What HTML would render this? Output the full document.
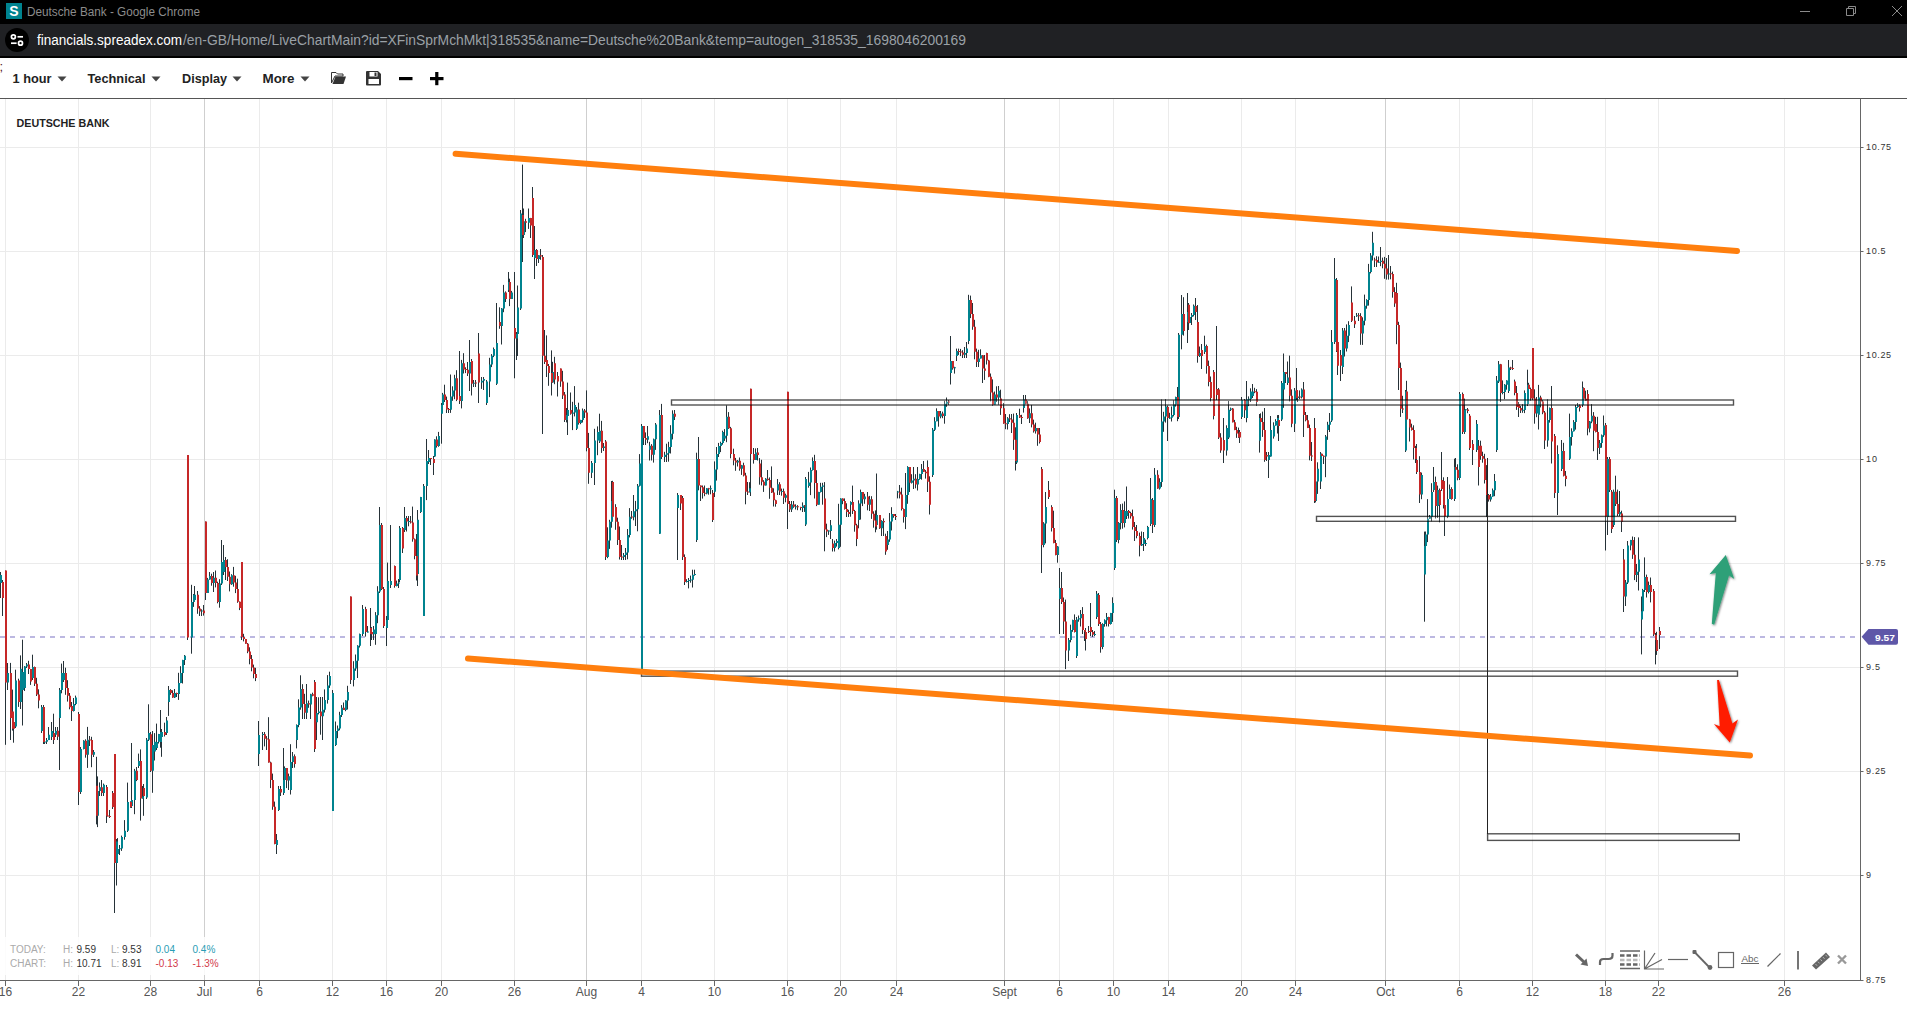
<!DOCTYPE html>
<html><head><meta charset="utf-8"><title>Deutsche Bank</title>
<style>
html,body{margin:0;padding:0;background:#fff;}
body{width:1907px;height:1026px;overflow:hidden;position:relative;font-family:"Liberation Sans",sans-serif;}
#titlebar{position:absolute;left:0;top:0;width:1907px;height:24px;background:#000;}
#urlbar{position:absolute;left:0;top:24px;width:1907px;height:32px;background:#202124;}
#urlline{position:absolute;left:0;top:56px;width:1907px;height:2px;background:#000;}
svg{position:absolute;left:0;top:0;}
text{font-family:"Liberation Sans",sans-serif;}
.tb{font-weight:bold;font-size:13px;fill:#222;}
.xl{font-size:12px;fill:#555;text-anchor:middle;}
.yl{font-size:9px;fill:#333;}
.st{font-size:10px;}
</style></head>
<body>
<div id="titlebar"></div><div id="urlbar"></div><div id="urlline"></div>
<svg width="1907" height="1026" viewBox="0 0 1907 1026">
<!-- title bar -->
<rect x="6" y="3" width="16" height="16" fill="#00838f"/>
<text x="14" y="16" font-size="14" font-weight="bold" fill="#fff" text-anchor="middle">S</text>
<text x="27" y="16" font-size="12" fill="#8c8c8c" textLength="173" lengthAdjust="spacingAndGlyphs">Deutsche Bank - Google Chrome</text>
<g stroke="#8a8a8a" stroke-width="1" fill="none">
<path d="M1800 11.5H1810"/>
<path d="M1846.5 8.5H1853.5V15.5H1846.5Z M1848.5 8.5V6.5H1855.5V13.5H1853.5"/>
<path d="M1892 6L1902 16M1902 6L1892 16"/>
</g>
<!-- url bar -->
<circle cx="17" cy="40" r="12" fill="#000"/>
<g stroke="#fff" stroke-width="1.7" fill="none">
<circle cx="13.4" cy="36.8" r="2"/><path d="M17.5 36.8H23"/>
<circle cx="20.5" cy="43.2" r="2"/><path d="M11 43.2H16.6"/>
</g>
<text x="37" y="45" font-size="14" fill="#fff" textLength="145" lengthAdjust="spacingAndGlyphs">financials.spreadex.com</text>
<text x="183" y="45" font-size="14" fill="#9aa0a6" textLength="783" lengthAdjust="spacingAndGlyphs">/en-GB/Home/LiveChartMain?id=XFinSprMchMkt|318535&amp;name=Deutsche%20Bank&amp;temp=autogen_318535_1698046200169</text>
<!-- toolbar -->
<text x="-0.5" y="70.5" font-size="13" fill="#522">;</text>
<text x="12.5" y="83" class="tb" textLength="39" lengthAdjust="spacingAndGlyphs">1 hour</text>
<path d="M57.5 76.5h9l-4.5 5z" fill="#444"/>
<text x="87.5" y="83" class="tb" textLength="58" lengthAdjust="spacingAndGlyphs">Technical</text>
<path d="M151.5 76.5h9l-4.5 5z" fill="#444"/>
<text x="182" y="83" class="tb" textLength="45" lengthAdjust="spacingAndGlyphs">Display</text>
<path d="M232.5 76.5h9l-4.5 5z" fill="#444"/>
<text x="262.5" y="83" class="tb" textLength="32" lengthAdjust="spacingAndGlyphs">More</text>
<path d="M300.5 76.5h9l-4.5 5z" fill="#444"/>
<!-- folder -->
<path d="M331.5 72.5h4.5l1.5 1.5h5.5v2h-8l-3.5 7z" fill="none" stroke="#333" stroke-width="1"/>
<path d="M335.5 76.5h10.5l-2.5 7.5h-11z" fill="#333"/>
<!-- save -->
<path d="M367 71h11l3 3v10.5a1 1 0 0 1-1 1h-13a1 1 0 0 1-1-1v-12.500a1 1 0 0 1 1-1z" fill="#333"/>
<rect x="369.5" y="72" width="8" height="4.5" fill="#fff"/><rect x="374.5" y="72.5" width="2" height="3.5" fill="#333"/>
<rect x="368.5" y="79" width="10.5" height="5" fill="#fff"/>
<!-- minus plus -->
<rect x="399" y="77" width="13.5" height="3.2" fill="#000"/>
<rect x="430" y="77" width="13.5" height="3.2" fill="#000"/><rect x="435.2" y="72" width="3.2" height="13.2" fill="#000"/>
<path d="M0 98.500H1907" stroke="#555" stroke-width="1"/>
<!-- grid -->
<g stroke="#ebebeb" stroke-width="1">
<path d="M0 147.500H1860M0 251.500H1860M0 355.500H1860M0 459.500H1860M0 563.500H1860M0 667.500H1860M0 771.500H1860M0 875.500H1860"/>
<path d="M5.5 99V980M78.5 99V980M150.5 99V980M259.5 99V980M332.5 99V980M386.5 99V980M441.5 99V980M514.5 99V980M641.5 99V980M714.5 99V980M787.5 99V980M840.5 99V980M896.5 99V980M1059.5 99V980M1113.5 99V980M1168.5 99V980M1241.5 99V980M1295.5 99V980M1459.5 99V980M1532.5 99V980M1605.5 99V980M1658.5 99V980M1784.5 99V980"/>
</g>
<path d="M204.5 99V980M586.5 99V980M1004.5 99V980M1385.5 99V980" stroke="#cfcfcf" stroke-width="1"/>
<!-- current price dashed -->
<path d="M0 637H1856" stroke="#bcb8e1" stroke-width="2" stroke-dasharray="5 5"/>
<text x="16.5" y="127" font-size="11.5" font-weight="bold" fill="#222" textLength="93" lengthAdjust="spacingAndGlyphs">DEUTSCHE BANK</text>
<!-- candles -->
<path d="M0.5 572.0V598.0M2.5 580.0V616.0M5.5 570.5V744.8M7.5 663.0V690.0M10.5 662.9V740.0M12.5 689.6V730.6M13.5 715.0V742.7M15.5 669.7V728.0M18.5 678.7V706.9M20.5 655.4V709.0M22.5 639.7V725.5M24.5 666.1V691.0M26.5 663.0V668.0M28.5 660.8V674.0M30.5 668.9V684.9M32.5 654.7V680.0M34.5 666.6V686.0M36.5 677.8V696.0M38.5 689.3V708.3M41.5 705.0V733.0M43.5 705.0V744.0M44.5 736.1V744.0M46.5 738.0V744.0M48.5 727.0V740.1M55.5 727.0V737.0M57.5 727.0V740.0M51.5 722.0V740.0M53.5 713.7V744.0M59.5 688.0V770.0M61.5 663.6V693.3M63.5 661.0V682.0M65.5 667.7V694.8M67.5 680.2V701.6M69.5 693.0V709.3M71.5 702.0V721.0M73.5 698.0V711.5M75.5 695.6V705.2M78.5 712.0V805.0M80.5 747.0V794.0M83.5 740.2V749.4M85.5 739.3V757.7M87.5 726.9V767.9M89.5 736.0V746.0M91.5 736.8V767.2M93.5 750.0V757.0M96.5 756.8V824.4M97.5 776.4V827.1M99.5 782.4V796.0M101.5 780.0V796.0M103.5 783.6V796.0M106.5 785.0V823.0M107.5 814.2V816.4M109.5 810.0V818.0M112.5 791.0V809.0M114.5 754.0V913.0M116.5 839.0V885.5M117.5 838.1V859.8M119.5 845.0V855.0M121.5 835.6V850.9M124.5 820.1V839.7M127.5 782.6V832.0M130.5 801.3V807.8M131.5 743.0V808.0M134.5 768.9V814.2M136.5 767.0V781.1M138.5 753.6V768.0M140.5 749.4V820.6M142.5 786.0V798.6M143.5 784.0V815.8M146.5 738.0V799.0M148.5 704.3V741.0M150.5 732.0V772.0M152.5 731.0V792.8M154.5 733.1V760.5M158.5 733.9V743.5M156.5 723.6V750.0M160.5 710.0V747.7M161.5 729.0V756.8M164.5 722.7V736.5M166.5 717.0V735.0M168.5 686.0V715.9M170.5 689.2V694.8M172.5 690.3V697.8M174.5 689.0V698.0M176.5 692.7V697.0M178.5 672.8V699.9M180.5 666.2V683.2M182.5 659.8V683.5M184.5 655.0V665.0M187.5 455.0V640.0M191.5 584.8V653.7M193.5 594.0V606.9M194.5 586.0V602.0M197.5 591.0V613.8M199.5 606.1V616.0M201.5 609.3V616.0M203.5 605.0V615.6M205.5 521.5V600.0M207.5 577.9V593.0M209.5 572.0V579.7M211.5 573.7V585.7M213.5 572.0V592.0M215.5 570.5V587.4M217.5 581.7V603.3M219.5 579.2V607.7M221.5 540.0V585.0M223.5 545.0V575.0M225.5 557.0V580.0M227.5 559.2V581.0M229.5 571.5V591.4M231.5 574.2V584.9M233.5 566.9V586.7M235.5 575.8V593.1M237.5 578.7V602.8M239.5 601.5V610.1M241.5 562.0V640.0M243.5 633.8V641.4M245.5 638.9V643.7M247.5 643.0V653.2M249.5 647.3V664.3M251.5 655.0V671.3M253.5 664.6V678.3M255.5 667.8V681.1M258.5 721.0V766.0M262.5 732.0V750.0M264.5 732.0V746.4M266.5 736.1V750.0M268.5 717.2V762.6M270.5 761.7V788.1M272.5 773.6V809.8M274.5 801.6V844.3M276.5 834.0V854.0M278.5 786.0V811.0M280.5 786.0V796.0M283.5 748.0V795.0M284.5 766.4V781.7M286.5 768.0V788.1M288.5 773.6V790.0M290.5 744.2V794.5M292.5 752.0V768.0M294.5 754.4V767.7M296.5 724.4V748.4M298.5 699.3V727.2M300.5 675.3V709.7M302.5 684.2V719.0M304.5 693.8V719.0M306.5 684.0V719.0M308.5 700.6V707.8M310.5 693.8V719.0M312.5 692.7V696.3M314.5 680.0V752.0M316.5 697.0V740.0M318.5 697.3V714.4M320.5 697.0V734.7M322.5 697.0V740.0M324.5 689.4V712.5M327.5 675.1V703.6M329.5 671.7V687.9M332.5 690.0V811.0M335.5 721.5V746.0M337.5 725.5V738.2M339.5 711.8V730.3M341.5 705.1V717.0M343.5 702.5V710.0M345.5 700.2V711.2M347.5 685.8V709.5M350.5 596.5V684.0M353.5 661.2V686.4M355.5 654.5V670.8M357.5 645.2V678.0M359.5 633.6V647.5M362.5 605.0V636.0M365.5 606.8V636.6M367.5 626.0V632.5M371.5 627.1V640.0M373.5 626.0V640.0M370.5 608.0V646.0M375.5 612.1V644.8M377.5 586.2V623.2M379.5 507.0V593.0M381.5 523.0V590.0M383.5 587.0V628.0M386.5 616.0V646.0M387.5 562.6V622.0M390.5 525.0V588.0M394.5 565.5V587.7M396.5 580.6V586.4M398.5 579.0V588.0M399.5 526.0V582.0M402.5 527.0V553.0M404.5 507.0V532.0M406.5 516.0V531.5M408.5 516.0V526.3M410.5 516.0V523.5M412.5 506.6V541.7M414.5 538.5V559.3M416.5 534.0V580.5M417.5 510.0V586.0M420.5 496.9V513.0M423.5 484.0V616.0M426.5 439.0V500.1M428.5 450.0V464.0M430.5 458.0V465.0M433.5 456.0V475.0M434.5 439.3V457.0M436.5 436.3V447.6M438.5 431.9V446.8M441.5 403.0V443.7M442.5 392.9V406.4M444.5 384.7V402.0M446.5 396.6V413.0M448.5 408.0V413.0M450.5 374.5V412.9M452.5 386.3V400.8M454.5 374.8V399.2M456.5 370.2V401.1M459.5 351.0V404.0M461.5 359.9V408.4M463.5 353.2V373.5M465.5 367.3V373.1M467.5 362.0V376.0M469.5 340.0V391.0M471.5 359.0V395.5M473.5 380.0V387.0M475.5 380.0V387.0M478.5 333.0V403.0M481.5 377.0V388.9M483.5 377.0V390.0M486.5 380.0V405.0M489.5 357.8V397.1M491.5 354.1V367.1M493.5 347.5V357.1M496.5 303.0V385.0M499.5 307.3V328.8M501.5 308.0V344.5M503.5 284.9V312.2M505.5 291.4V302.0M508.5 272.0V292.0M509.5 278.7V306.1M511.5 290.9V299.0M514.5 272.0V378.3M516.5 332.0V360.0M517.5 285.5V356.0M520.5 210.0V310.0M522.5 164.6V262.0M523.5 208.5V238.0M525.5 218.8V232.1M528.5 208.5V228.9M530.5 217.9V238.0M532.5 187.0V257.0M534.5 226.0V279.0M536.5 249.0V266.0M538.5 255.2V263.0M540.5 249.0V259.8M542.5 255.0V434.0M544.5 330.0V364.0M546.5 335.4V377.0M548.5 364.0V385.8M551.5 350.4V395.5M552.5 361.8V382.7M554.5 356.8V384.2M557.5 372.0V396.5M560.5 368.5V386.8M562.5 370.8V399.0M564.5 392.0V422.0M566.5 408.0V422.4M567.5 382.6V435.0M570.5 392.5V414.7M572.5 401.8V430.1M574.5 386.1V416.4M576.5 407.0V430.0M578.5 402.7V424.6M580.5 419.8V424.2M582.5 408.5V422.5M584.5 409.0V418.0M586.5 390.4V451.3M588.5 432.9V483.8M591.5 461.0V478.0M594.5 428.8V485.0M597.5 426.4V455.2M599.5 413.7V443.0M601.5 420.9V452.9M603.5 443.0V451.0M605.5 440.0V560.0M607.5 527.3V558.2M609.5 519.8V548.9M611.5 481.0V527.7M612.5 480.8V520.0M615.5 504.2V529.8M617.5 517.7V545.0M619.5 526.5V559.5M621.5 545.0V560.0M623.5 553.0V560.0M625.5 548.0V560.0M627.5 529.0V559.3M629.5 508.1V537.4M631.5 511.0V518.8M633.5 495.0V520.3M635.5 500.9V526.0M637.5 484.0V531.3M639.5 454.1V486.5M641.5 424.0V672.0M643.5 426.0V445.0M645.5 432.4V445.0M647.5 426.0V443.2M649.5 441.8V460.5M651.5 444.1V460.5M653.5 438.6V462.6M655.5 423.0V449.9M659.5 410.0V534.0M661.5 403.9V459.0M664.5 451.8V462.0M666.5 443.7V462.0M668.5 441.8V461.7M670.5 425.2V453.5M672.5 410.3V439.4M674.5 410.0V420.0M677.5 493.0V560.0M680.5 495.0V510.0M682.5 496.0V560.0M684.5 554.4V585.0M686.5 579.2V582.5M688.5 578.0V588.4M690.5 575.6V582.7M692.5 569.7V587.5M694.5 569.7V575.7M696.5 452.7V542.0M698.5 437.0V490.3M700.5 485.5V501.0M702.5 485.5V498.6M704.5 485.5V496.2M706.5 488.2V494.3M708.5 487.9V494.7M710.5 485.5V494.3M712.5 490.0V522.0M714.5 461.4V497.0M716.5 447.0V480.6M718.5 442.9V457.0M720.5 441.7V452.1M722.5 430.7V444.7M724.5 429.1V440.9M726.5 405.4V442.2M728.5 412.1V428.9M730.5 426.9V458.3M733.5 448.7V465.3M735.5 457.9V470.8M737.5 460.0V466.5M739.5 457.5V470.7M741.5 464.9V474.9M743.5 462.7V476.4M745.5 472.8V504.3M747.5 482.0V495.0M749.5 482.2V492.4M750.5 388.7V496.0M753.5 448.0V463.6M755.5 448.4V460.0M757.5 448.0V460.5M759.5 458.1V484.7M761.5 459.8V485.4M763.5 480.2V491.9M765.5 478.1V485.5M767.5 470.0V480.7M769.5 477.4V498.8M771.5 466.4V493.0M773.5 488.3V506.5M775.5 499.7V506.7M777.5 479.0V495.0M779.5 482.2V495.0M781.5 488.6V495.7M783.5 488.6V504.0M785.5 493.7V502.3M787.5 391.8V529.0M789.5 501.0V512.0M791.5 501.0V512.0M793.5 501.0V507.8M795.5 504.3V509.5M797.5 505.1V510.2M800.5 506.8V510.3M802.5 502.4V512.0M804.5 505.0V511.9M805.5 477.0V526.0M808.5 471.9V487.7M810.5 467.5V495.1M812.5 457.4V470.6M814.5 454.8V498.5M816.5 470.2V506.1M818.5 491.8V504.7M820.5 482.8V492.5M822.5 482.8V504.7M824.5 482.1V551.3M826.5 523.7V537.1M828.5 530.4V534.9M830.5 520.0V539.0M832.5 539.0V551.5M834.5 540.6V551.5M836.5 539.0V546.6M838.5 503.8V549.4M840.5 498.3V546.8M842.5 498.4V504.2M844.5 498.4V509.6M846.5 503.3V517.0M848.5 509.8V517.0M850.5 501.3V516.7M852.5 485.6V514.0M854.5 509.9V531.7M856.5 523.8V546.1M858.5 500.3V528.3M860.5 489.6V519.6M862.5 492.0V506.1M864.5 493.8V503.8M867.5 492.0V510.3M869.5 495.9V511.0M871.5 496.2V518.9M873.5 511.3V527.7M875.5 510.4V532.3M876.5 473.5V529.6M879.5 515.0V528.9M881.5 520.2V536.0M883.5 518.4V536.0M885.5 533.7V554.8M887.5 531.0V549.8M889.5 513.0V541.8M891.5 507.2V530.5M893.5 514.0V517.7M895.5 514.0V520.0M897.5 490.9V498.4M899.5 485.0V498.4M901.5 487.7V510.5M903.5 508.5V522.6M905.5 473.0V529.1M907.5 466.2V503.8M909.5 467.0V492.0M911.5 474.2V483.5M913.5 467.0V489.0M915.5 474.2V488.3M917.5 467.0V490.5M919.5 473.8V479.7M921.5 464.0V479.7M923.5 461.0V472.0M925.5 470.1V478.6M927.5 460.4V492.0M929.5 476.3V514.5M932.5 428.0V477.0M934.5 417.2V431.0M936.5 408.3V421.3M938.5 411.0V426.7M940.5 411.0V418.3M942.5 411.6V418.2M944.5 400.8V423.7M946.5 397.5V406.8M948.5 400.0V405.0M950.5 336.0V384.5M952.5 361.0V369.7M954.5 366.8V373.6M956.5 348.6V361.0M958.5 348.6V354.9M960.5 348.9V356.1M962.5 350.2V358.0M964.5 347.0V358.0M966.5 342.0V358.0M968.5 294.8V344.1M970.5 295.6V318.1M972.5 303.0V329.8M974.5 319.8V359.3M976.5 348.6V367.0M978.5 349.8V367.0M980.5 349.3V358.5M982.5 355.0V383.0M984.5 355.0V379.9M986.5 352.7V364.5M988.5 359.9V377.2M990.5 373.5V401.3M992.5 379.4V405.7M994.5 391.5V404.8M996.5 386.3V401.9M998.5 386.0V404.8M1000.5 389.7V414.9M1003.5 403.0V423.8M1005.5 414.0V429.2M1007.5 417.1V429.5M1009.5 414.2V422.0M1011.5 414.0V433.0M1013.5 413.6V449.9M1015.5 427.3V470.5M1016.5 413.0V464.0M1019.5 408.7V418.0M1021.5 414.8V424.0M1023.5 395.0V412.6M1025.5 395.0V404.3M1027.5 401.1V418.8M1029.5 408.4V423.0M1031.5 404.9V427.4M1033.5 419.6V432.6M1035.5 422.7V433.6M1037.5 428.0V445.8M1039.5 428.0V443.5M1041.5 467.0V573.0M1043.5 522.2V547.3M1045.5 492.0V543.4M1048.5 481.0V499.0M1051.5 505.2V531.5M1053.5 510.7V543.3M1055.5 539.9V555.3M1057.5 546.0V562.7M1059.5 568.0V634.0M1061.5 572.0V604.0M1063.5 597.5V634.0M1065.5 599.6V669.1M1068.5 638.0V661.0M1070.5 624.7V642.3M1072.5 619.7V631.8M1074.5 614.4V632.5M1076.5 617.0V658.0M1078.5 615.5V621.7M1080.5 610.0V626.5M1082.5 607.1V634.0M1084.5 630.0V641.0M1085.5 628.0V650.5M1088.5 626.0V633.0M1090.5 603.0V636.0M1092.5 630.0V637.0M1094.5 631.0V636.0M1096.5 591.0V619.0M1098.5 593.0V626.0M1100.5 622.0V652.7M1102.5 623.2V649.2M1104.5 619.3V626.7M1106.5 613.0V626.4M1108.5 616.8V626.5M1110.5 612.9V624.6M1112.5 597.3V621.9M1114.5 489.7V570.0M1116.5 496.0V542.0M1118.5 522.1V543.3M1120.5 504.2V529.4M1122.5 503.6V528.7M1124.5 501.4V527.4M1126.5 486.5V519.0M1128.5 510.0V518.6M1130.5 511.8V518.6M1132.5 509.6V529.6M1134.5 522.0V541.0M1136.5 525.0V538.3M1139.5 532.6V556.4M1141.5 531.5V546.0M1145.5 539.6V546.0M1143.5 532.0V551.0M1147.5 525.9V539.4M1150.5 478.0V526.0M1152.5 498.0V533.0M1154.5 468.0V527.0M1157.5 470.2V488.8M1159.5 478.3V489.6M1161.5 399.5V486.9M1163.5 411.8V431.8M1165.5 399.3V422.6M1167.5 405.5V441.0M1169.5 412.8V418.9M1171.5 406.5V421.5M1173.5 400.2V416.4M1175.5 396.7V406.6M1177.5 387.0V421.2M1178.5 333.0V419.0M1181.5 295.0V349.3M1183.5 297.2V335.6M1187.5 293.0V343.0M1188.5 303.0V330.0M1189.5 313.0V323.2M1191.5 313.0V325.0M1193.5 304.5V316.4M1195.5 298.0V320.0M1197.5 305.0V362.7M1199.5 346.5V357.0M1201.5 344.0V369.0M1204.5 335.7V354.0M1206.5 344.6V373.7M1208.5 360.6V386.3M1210.5 376.5V401.4M1213.5 370.0V419.4M1216.5 326.0V400.0M1218.5 388.0V439.0M1220.5 433.2V452.8M1223.5 418.0V463.0M1226.5 425.3V455.6M1228.5 401.0V439.0M1230.5 407.6V411.0M1232.5 408.0V422.4M1234.5 419.9V430.2M1236.5 426.8V437.9M1238.5 427.6V437.9M1239.5 430.0V443.0M1241.5 397.0V419.0M1244.5 399.0V418.0M1246.5 381.0V422.3M1248.5 396.4V406.1M1250.5 388.3V402.0M1252.5 384.0V398.0M1254.5 387.8V393.2M1256.5 389.1V405.8M1259.5 414.0V452.6M1260.5 413.3V424.4M1262.5 411.6V436.9M1264.5 408.0V461.8M1268.5 452.0V478.0M1266.5 452.0V461.0M1270.5 416.0V456.7M1273.5 422.3V438.6M1275.5 419.2V425.7M1278.5 415.0V441.0M1277.5 415.1V433.5M1281.5 381.0V421.0M1283.5 353.5V407.8M1285.5 372.0V383.0M1287.5 361.5V385.0M1289.5 355.6V401.4M1291.5 389.4V427.2M1294.5 388.0V432.0M1296.5 368.0V400.0M1297.5 395.8V402.0M1299.5 390.4V399.2M1301.5 388.4V398.4M1303.5 382.0V437.0M1305.5 412.0V421.3M1307.5 415.0V428.1M1309.5 424.6V460.3M1311.5 442.0V461.0M1314.5 418.0V503.0M1315.5 481.1V502.4M1317.5 462.3V493.9M1320.5 452.0V489.0M1321.5 453.7V456.4M1323.5 455.5V464.0M1325.5 435.0V477.2M1327.5 421.8V439.8M1329.5 413.0V432.0M1331.5 330.0V422.0M1334.5 258.0V344.0M1336.5 278.0V352.0M1337.5 335.4V375.0M1340.5 350.0V381.0M1342.5 328.0V374.0M1344.5 328.0V356.5M1346.5 324.4V351.5M1348.5 321.2V342.1M1351.5 286.4V322.0M1354.5 316.0V328.0M1356.5 313.0V316.9M1358.5 313.1V321.0M1360.5 313.2V344.8M1362.5 317.3V344.9M1364.5 294.6V325.3M1366.5 299.2V308.7M1368.5 263.9V305.6M1370.5 253.1V273.4M1372.5 231.8V260.5M1374.5 257.6V267.0M1376.5 256.2V267.0M1378.5 256.5V262.8M1380.5 247.0V266.2M1382.5 257.6V268.3M1384.5 256.9V278.8M1386.5 258.0V279.6M1388.5 255.0V279.6M1390.5 266.0V279.3M1392.5 271.6V297.7M1394.5 287.2V306.9M1396.5 282.8V344.2M1398.5 321.8V390.0M1400.5 362.6V416.9M1402.5 395.8V413.0M1405.5 390.0V452.0M1406.5 380.8V421.9M1409.5 418.9V441.5M1411.5 423.7V430.6M1413.5 425.3V459.5M1415.5 445.9V463.0M1416.5 444.0V474.0M1419.5 456.2V503.0M1421.5 472.6V499.2M1424.5 531.6V621.7M1425.5 531.5V551.3M1427.5 499.1V542.1M1429.5 515.0V519.0M1431.5 483.2V521.3M1433.5 467.0V492.0M1435.5 476.6V518.5M1437.5 485.6V517.9M1439.5 488.5V522.3M1441.5 452.0V491.0M1443.5 477.3V508.5M1444.5 503.0V536.0M1447.5 477.0V518.1M1449.5 484.5V499.0M1451.5 487.2V499.7M1454.5 458.7V501.0M1455.5 458.0V470.1M1457.5 464.3V480.3M1459.5 392.0V480.0M1462.5 392.5V434.0M1464.5 398.6V434.0M1465.5 409.2V416.0M1467.5 408.0V413.2M1469.5 414.0V450.0M1472.5 440.0V465.0M1476.5 420.0V452.0M1478.5 440.0V485.5M1480.5 440.7V459.8M1482.5 451.7V462.7M1484.5 453.8V483.5M1486.5 465.1V517.0M1488.5 494.0V501.6M1490.5 494.0V501.6M1492.5 488.5V496.8M1494.5 474.0V496.2M1496.5 376.0V452.0M1498.5 361.0V383.0M1500.5 363.9V402.0M1502.5 380.4V394.3M1504.5 384.1V399.2M1506.5 380.2V389.7M1508.5 360.0V393.0M1510.5 366.8V370.0M1512.5 360.0V370.0M1514.5 379.6V395.3M1516.5 386.0V409.9M1518.5 402.0V417.0M1520.5 406.0V413.0M1522.5 404.0V412.8M1524.5 390.4V413.1M1527.5 369.7V406.0M1528.5 382.8V395.5M1530.5 387.6V400.7M1532.5 348.0V400.0M1534.5 389.3V423.7M1536.5 397.0V417.2M1538.5 384.9V429.5M1540.5 395.7V407.4M1542.5 400.0V414.2M1544.5 411.0V449.0M1547.5 399.4V446.7M1549.5 407.5V422.6M1551.5 386.0V463.5M1554.5 434.0V498.0M1557.5 445.3V515.0M1561.5 440.0V471.0M1563.5 442.8V476.4M1565.5 471.0V486.3M1569.5 413.6V460.0M1571.5 428.3V445.6M1573.5 420.1V431.5M1575.5 405.0V429.6M1577.5 403.0V407.8M1579.5 404.3V411.5M1582.5 381.5V407.0M1583.5 387.4V399.0M1585.5 390.7V400.9M1587.5 390.0V435.3M1589.5 421.0V432.4M1591.5 404.0V423.2M1593.5 412.1V451.2M1595.5 416.9V432.4M1597.5 416.8V460.0M1599.5 440.0V454.0M1601.5 434.5V447.7M1603.5 415.5V436.9M1605.5 423.0V550.5M1607.5 457.0V535.0M1609.5 457.0V492.0M1611.5 490.0V533.0M1613.5 489.6V527.0M1615.5 475.7V506.0M1617.5 489.6V516.0M1619.5 491.0V516.0M1621.5 510.7V532.0M1623.5 549.0V612.0M1625.5 580.0V606.0M1627.5 541.0V584.0M1630.5 539.9V550.3M1632.5 536.5V558.9M1634.5 537.1V580.1M1636.5 564.0V582.0M1638.5 537.4V590.5M1641.5 596.5V654.4M1642.5 588.9V614.4M1644.5 557.4V592.0M1646.5 574.6V597.5M1648.5 581.6V593.4M1650.5 577.5V602.4M1653.5 589.0V636.0M1655.5 633.0V664.4M1656.5 631.8V654.9M1659.5 627.0V649.0" stroke="#263238" stroke-width="1" fill="none"/>
<path d="M1 575.0V583.0M8 673.0V682.6M16 680.5V726.6M21 668.7V702.0M23 672.0V690.0M25 666.5V688.0M27 664.4V666.5M33 667.0V678.0M42 707.0V731.0M45 741.4V742.4M47 739.9V741.8M49 734.8V739.9M56 730.7V734.8M52 731.0V737.0M60 690.0V718.0M62 673.0V690.0M64 673.0V680.0M74 704.0V711.0M76 697.6V704.0M81 749.0V792.0M84 740.7V749.0M88 739.7V754.7M94 752.0V754.7M98 791.0V815.8M100 787.2V791.0M104 784.7V792.9M117 841.5V863.0M118 849.0V854.0M120 848.2V849.2M122 837.0V848.4M125 830.8V837.0M128 801.9V830.8M132 800.0V806.0M135 770.8V800.0M139 761.0V766.0M143 796.5V798.6M147 739.7V797.6M149 733.0V739.7M153 745.0V770.8M155 741.8V751.5M159 734.0V741.8M157 742.0V748.0M161 732.0V742.0M162 732.0V737.0M167 720.4V733.0M169 690.0V702.0M175 692.9V697.6M179 683.1V693.9M181 673.0V683.1M183 660.0V673.0M185 655.8V660.0M192 602.0V637.6M194 594.7V602.0M195 594.7V600.0M202 610.5V611.5M208 579.6V593.0M210 576.0V579.6M214 577.8V583.0M220 583.4V602.0M222 562.0V583.4M224 560.0V572.0M232 575.3V584.2M259 735.0V754.0M263 734.1V735.1M277 840.0V845.0M279 789.0V810.0M284 780.0V793.0M285 768.0V780.0M289 776.3V780.5M291 762.0V790.0M293 756.2V762.0M297 725.1V740.0M299 707.4V725.1M301 689.0V707.4M307 703.3V712.7M311 694.2V704.5M317 712.9V722.2M319 711.6V712.9M323 709.8V716.2M325 700.1V709.8M328 685.6V700.1M330 676.0V685.6M333 693.0V811.0M336 731.1V745.0M338 728.6V731.1M340 715.0V728.6M342 707.8V715.0M346 700.4V710.0M348 692.0V700.4M354 668.4V680.0M356 660.7V668.4M358 645.8V660.7M360 634.0V645.8M363 609.0V634.0M368 631.5V632.5M374 629.5V634.3M376 615.3V634.0M378 591.5V615.3M380 525.0V591.5M387 620.0V628.0M388 581.0V620.0M391 581.0V585.0M397 583.5V586.0M399 582.5V583.5M400 528.0V580.0M405 518.0V530.0M409 520.9V521.9M418 519.7V574.0M421 497.0V512.0M424 486.0V616.0M427 461.0V486.0M429 458.0V462.0M435 439.4V456.6M439 436.0V446.0M442 405.0V413.7M443 394.4V405.0M451 396.5V409.8M453 390.5V396.5M455 378.3V390.5M462 363.3V401.0M470 362.0V373.5M474 382.8V383.8M482 380.8V382.6M484 379.0V380.8M487 381.5V403.0M490 364.4V381.5M492 355.8V364.4M494 349.0V355.8M497 343.0V383.7M502 308.6V326.0M504 292.5V308.6M509 282.0V290.0M512 292.5V299.0M517 334.0V338.6M518 307.5V334.0M521 213.4V308.5M524 221.2V235.0M529 218.1V222.8M535 250.0V258.0M539 255.3V259.0M553 372.0V382.6M567 415.0V420.0M568 410.0V416.0M573 412.6V413.8M575 405.0V412.6M577 409.4V428.7M581 419.9V423.0M583 410.5V419.9M592 463.0V472.7M595 440.5V463.0M598 432.0V440.5M600 430.8V441.6M604 446.4V448.0M608 540.6V557.0M610 521.7V540.6M612 501.0V521.7M624 555.0V557.1M626 552.6V555.0M628 535.1V552.6M630 516.7V535.1M634 511.3V517.3M636 509.3V511.3M638 485.8V509.3M640 463.6V485.8M642 426.0V669.6M648 436.3V439.8M650 445.7V449.8M654 439.2V454.8M656 424.6V439.2M660 415.0V533.8M665 454.7V457.0M667 453.2V454.7M669 447.0V453.2M671 433.7V447.0M673 413.7V433.7M678 495.0V508.0M687 581.0V582.0M689 580.1V581.1M691 579.5V580.5M693 574.8V579.7M695 574.0V575.0M697 459.0V540.0M707 488.3V493.4M711 488.3V489.3M715 469.6V491.7M717 454.0V469.6M719 445.9V454.0M721 443.1V445.9M723 432.0V443.1M725 435.7V438.6M727 416.8V435.7M738 460.8V462.4M742 465.3V468.8M750 488.3V492.3M756 452.5V459.9M766 478.7V485.5M778 484.3V490.5M782 490.9V491.9M786 495.3V497.7M792 504.5V509.4M796 506.3V507.3M803 505.6V507.9M806 479.0V524.5M809 482.6V486.0M811 469.9V482.6M813 461.0V469.9M819 492.0V504.7M821 486.7V492.0M823 485.4V486.7M829 530.6V531.6M831 525.2V530.9M835 543.1V548.1M837 541.0V543.1M839 524.8V548.0M841 498.4V524.8M851 501.9V504.7M859 503.6V520.0M861 492.0V503.6M865 496.5V499.2M870 499.2V504.8M877 515.0V525.0M882 520.9V528.2M888 539.5V545.0M890 521.6V539.5M892 514.0V521.6M898 491.4V492.4M906 495.0V517.0M908 467.0V495.0M912 480.6V482.8M914 478.7V480.6M918 479.0V484.6M920 473.9V479.0M922 468.9V473.9M933 429.8V475.0M935 421.2V429.8M937 411.0V421.2M941 413.5V416.5M945 403.7V415.9M947 401.7V403.7M951 361.0V373.0M955 367.2V368.2M957 351.1V355.9M965 353.0V354.8M967 348.5V353.0M969 300.0V341.0M979 358.4V361.9M981 355.2V358.4M995 394.6V404.8M999 390.8V397.5M1008 418.3V424.0M1017 415.0V462.6M1024 399.4V408.1M1030 413.2V418.2M1036 428.0V431.3M1044 523.6V545.0M1046 507.0V523.6M1058 546.5V555.0M1060 588.0V599.0M1069 640.0V650.5M1071 630.0V640.0M1073 620.0V630.0M1077 619.4V656.0M1079 618.2V619.4M1081 614.0V618.2M1095 634.0V635.0M1097 593.7V617.0M1103 624.0V647.0M1105 620.3V624.0M1107 617.0V620.3M1111 613.1V624.0M1113 603.0V613.1M1115 498.0V568.0M1119 523.0V540.0M1121 510.0V523.0M1125 511.0V523.0M1127 511.0V516.0M1142 544.0V545.4M1146 542.9V544.0M1144 538.0V544.0M1148 527.0V538.0M1151 499.0V524.0M1155 474.7V525.0M1160 482.0V488.6M1162 421.5V482.0M1164 416.4V421.5M1166 406.5V416.4M1170 417.4V418.4M1172 414.9V417.8M1174 404.4V414.9M1176 397.0V404.4M1179 334.7V417.0M1182 314.0V334.7M1188 312.0V322.0M1190 316.9V323.0M1192 315.0V316.9M1194 305.7V315.0M1200 353.1V356.0M1205 346.0V352.0M1227 428.0V450.5M1229 409.7V437.6M1231 408.6V409.7M1242 400.0V417.0M1247 399.6V418.0M1249 398.8V399.8M1251 391.5V399.0M1253 391.5V396.0M1260 418.0V440.8M1269 455.0V460.0M1271 430.0V456.6M1274 425.4V436.5M1276 421.0V425.4M1278 418.0V426.0M1282 383.0V419.4M1284 372.0V389.4M1288 377.6V383.0M1295 390.4V423.7M1298 396.6V398.0M1302 389.4V397.2M1316 481.5V501.0M1318 468.7V481.5M1321 453.7V481.6M1326 436.5V456.6M1328 424.7V430.0M1330 421.5V424.7M1332 342.0V420.5M1335 279.0V342.0M1343 330.4V367.0M1347 335.8V348.6M1349 325.0V335.8M1357 315.3V316.3M1363 320.8V333.6M1365 305.7V320.8M1367 300.0V305.7M1369 272.0V300.0M1371 255.4V272.0M1373 242.8V255.4M1379 261.8V262.8M1381 260.8V262.0M1389 273.4V274.4M1406 391.5V450.5M1422 475.0V494.5M1425 546.0V574.6M1426 534.5V546.0M1428 518.7V534.5M1430 516.7V518.7M1432 492.0V516.7M1434 482.0V490.0M1438 490.0V506.0M1448 499.0V516.6M1450 489.0V499.0M1455 467.0V499.0M1460 394.0V478.0M1465 410.0V432.0M1466 409.2V410.2M1477 424.0V450.0M1491 496.5V499.4M1493 490.2V496.5M1495 481.0V490.2M1497 380.4V450.0M1499 364.3V381.5M1503 392.0V393.0M1505 384.8V392.0M1507 380.4V384.8M1509 367.5V391.0M1523 409.7V410.7M1525 393.0V410.0M1528 384.7V404.0M1537 405.0V413.6M1539 397.5V414.7M1548 420.0V440.4M1550 408.0V420.0M1558 454.0V493.0M1562 451.0V469.0M1570 437.0V458.7M1572 431.2V437.0M1574 422.0V431.2M1576 407.0V422.0M1578 405.5V407.0M1583 388.0V405.0M1590 421.4V428.6M1592 415.8V421.4M1600 443.0V448.0M1602 435.2V443.0M1604 425.4V435.2M1608 459.0V517.0M1614 491.7V525.0M1620 512.0V514.4M1626 582.6V596.5M1628 545.5V582.6M1631 540.0V545.5M1637 571.7V575.0M1639 559.4V571.7M1642 611.3V619.6M1643 590.0V611.3M1645 577.0V590.0M1649 585.0V592.0" stroke="#00838f" stroke-width="2" fill="none"/>
<path d="M3 582.0V598.0M6 570.5V682.6M11 673.0V718.0M13 711.6V728.7M14 722.0V728.7M19 680.5V702.0M29 664.4V669.0M31 669.0V681.5M35 667.0V683.7M37 683.7V694.4M39 694.4V700.5M44 707.0V742.0M58 730.7V736.7M54 733.0V740.0M66 673.0V688.0M68 688.0V695.8M70 695.8V707.3M72 706.0V711.0M79 714.0V792.0M86 740.7V754.7M90 739.4V740.4M92 740.1V754.7M97 785.8V815.8M102 787.2V792.9M107 786.9V815.8M108 815.4V816.4M110 815.9V816.9M113 793.0V807.0M115 754.0V863.0M131 801.9V807.0M137 770.8V780.0M141 761.0V798.6M144 788.0V796.0M151 734.3V770.8M165 732.0V735.0M171 690.0V692.9M173 692.9V697.6M177 692.9V693.9M188 455.0V637.6M198 594.7V608.6M200 608.6V611.5M204 610.5V613.2M206 521.5V593.0M212 576.0V583.0M216 577.8V583.1M218 583.1V602.0M226 560.0V567.0M228 567.0V576.8M230 576.8V584.2M234 575.3V582.6M236 582.6V589.1M238 589.1V601.7M240 601.7V608.0M242 562.0V637.0M244 637.0V638.9M246 638.9V643.7M248 643.7V651.5M250 651.5V658.9M252 658.9V667.6M254 667.6V674.1M256 674.1V678.0M265 734.2V738.8M267 738.5V739.5M269 739.2V762.5M271 762.5V780.0M273 780.0V806.7M275 806.7V844.0M281 789.0V792.6M287 768.0V780.5M295 756.2V763.9M303 689.0V704.1M305 704.1V712.7M309 703.3V704.5M313 694.2V695.7M315 682.0V749.0M321 711.6V716.2M344 707.8V710.0M351 596.5V680.0M366 609.0V632.0M372 632.0V634.3M371 628.0V634.0M382 525.0V589.0M384 589.0V626.0M395 566.0V586.0M403 528.0V548.6M407 518.0V521.5M411 521.4V522.4M413 522.4V539.2M415 539.2V556.0M417 556.0V575.4M431 458.0V459.0M434 459.0V463.0M437 439.4V446.0M445 394.4V400.0M447 400.0V409.4M449 409.1V410.1M457 378.3V399.7M460 396.0V401.0M464 363.3V369.5M466 369.1V370.1M468 369.7V373.5M472 361.0V383.7M476 382.5V383.5M479 353.6V382.6M500 322.0V326.0M506 292.5V299.0M510 282.0V299.0M515 328.0V338.6M523 215.0V235.0M526 221.2V222.8M531 218.1V225.5M533 198.0V255.0M537 250.0V259.0M541 255.3V256.4M543 257.0V355.8M545 355.8V362.0M547 360.0V366.0M549 366.0V373.0M552 373.0V382.6M555 363.3V379.4M558 376.0V381.5M561 368.6V381.5M563 381.5V395.5M565 394.4V420.0M571 410.0V413.8M579 409.4V423.0M585 410.5V412.4M587 412.4V448.0M589 448.0V472.7M602 430.8V448.0M606 441.6V557.0M613 482.0V516.7M616 507.0V521.8M618 521.8V540.1M620 540.1V557.0M622 556.5V557.5M632 516.5V517.5M644 426.0V437.9M646 437.9V439.8M652 445.7V454.8M662 415.0V457.0M675 413.7V416.8M681 495.0V503.4M683 498.0V557.0M685 557.0V582.0M699 459.0V485.5M701 485.5V487.3M703 487.3V493.0M705 492.7V493.7M709 488.2V489.2M713 493.0V520.0M729 416.8V428.3M731 428.3V454.0M734 454.0V460.4M736 460.4V462.4M740 460.8V468.8M744 465.3V475.6M746 475.6V491.7M748 491.5V492.5M751 388.7V454.0M754 454.0V459.9M758 452.5V454.9M760 463.6V477.2M762 477.2V481.8M764 481.8V485.5M768 478.7V480.0M770 480.0V487.8M772 487.8V492.6M774 492.6V500.3M776 500.3V504.0M780 484.3V491.5M784 491.3V497.7M788 391.8V504.0M790 504.0V509.4M794 504.5V506.8M798 506.3V507.3M801 506.9V507.9M805 505.5V506.5M815 461.0V482.9M817 482.9V504.7M825 498.4V529.6M827 529.6V531.4M833 543.6V548.1M843 498.4V501.1M845 501.1V509.0M847 509.0V511.9M849 511.9V513.9M853 501.9V511.0M855 511.0V525.2M857 525.2V539.0M863 492.0V499.2M868 496.5V504.8M872 499.2V513.8M874 513.8V520.6M876 520.6V526.5M880 515.0V528.2M884 520.9V522.3M886 536.0V551.5M894 514.0V516.1M896 516.1V517.1M900 491.7V494.6M902 494.6V508.9M904 508.9V517.0M910 467.0V482.8M916 478.7V484.6M924 468.9V471.7M926 471.7V473.3M928 467.0V481.8M930 481.8V504.7M939 411.0V416.5M943 413.5V415.9M949 401.4V402.4M953 361.0V368.2M959 351.0V352.0M961 351.6V352.6M963 352.4V354.8M971 300.0V314.1M973 314.1V326.8M975 326.8V351.8M977 351.8V361.9M983 355.2V368.4M985 368.4V370.7M987 353.0V360.5M989 360.5V376.7M991 376.7V392.6M993 392.6V404.8M997 394.6V397.5M1001 398.6V408.3M1004 408.3V423.5M1006 423.2V424.2M1010 418.3V419.5M1012 419.5V422.8M1014 422.8V439.8M1016 439.8V461.0M1020 415.0V417.4M1022 416.9V417.9M1026 399.4V403.7M1028 403.7V418.2M1032 413.2V424.5M1034 424.5V431.3M1038 428.0V434.5M1040 434.5V442.0M1042 469.0V545.0M1049 490.0V497.0M1052 507.0V528.0M1054 528.0V543.1M1056 543.1V555.0M1062 588.0V602.0M1064 602.0V621.6M1066 621.6V650.5M1075 620.0V632.0M1083 614.0V630.0M1085 630.0V631.7M1086 632.0V639.0M1089 631.0V632.0M1091 627.0V632.0M1093 632.0V634.7M1099 595.0V624.0M1101 624.0V647.0M1109 617.0V624.0M1117 498.0V540.0M1123 510.0V523.0M1129 511.0V512.9M1131 512.9V516.3M1133 516.3V527.0M1135 527.0V531.0M1137 531.0V536.0M1140 536.0V545.4M1153 500.0V525.0M1158 474.7V488.6M1168 407.0V418.0M1178 397.0V417.0M1184 314.0V331.0M1189 304.7V323.0M1196 306.0V312.0M1198 322.0V356.0M1202 350.0V356.0M1207 346.0V365.9M1209 365.9V382.0M1211 382.0V398.0M1214 372.0V416.0M1217 389.0V395.0M1219 389.4V437.6M1221 437.6V450.5M1224 440.0V450.5M1233 408.6V422.2M1235 422.2V430.0M1237 430.0V433.6M1239 433.6V437.6M1240 432.0V437.6M1245 400.0V410.3M1255 391.2V392.2M1257 391.8V402.0M1261 418.0V422.0M1263 422.0V430.0M1265 430.0V460.0M1267 455.0V456.6M1279 420.0V426.0M1286 372.0V374.1M1290 377.6V395.8M1292 395.8V423.7M1297 390.0V398.0M1300 396.4V397.4M1304 389.4V415.0M1306 415.0V420.2M1308 420.2V428.0M1310 428.0V455.8M1312 455.5V456.5M1315 428.0V501.0M1322 453.7V456.0M1324 455.8V456.8M1337 280.0V350.8M1338 342.0V365.8M1341 355.0V365.8M1345 330.4V348.6M1352 302.5V320.7M1355 320.7V324.2M1359 315.3V316.3M1361 315.9V333.6M1375 259.4V260.4M1377 260.0V262.6M1383 260.8V263.7M1385 263.7V268.6M1387 268.6V274.4M1391 273.2V274.2M1393 273.9V292.0M1395 292.0V303.6M1397 293.0V325.0M1399 325.0V368.0M1401 368.0V408.7M1403 408.5V409.5M1407 391.5V419.4M1410 419.4V427.4M1412 427.4V430.0M1414 430.0V447.9M1416 447.9V459.0M1417 460.0V472.0M1420 472.0V494.5M1436 482.0V506.0M1440 490.0V505.0M1442 480.0V489.0M1444 481.0V505.0M1445 505.0V516.6M1452 489.0V499.0M1456 467.0V469.7M1458 469.7V478.0M1463 394.0V432.0M1468 409.4V411.0M1470 415.8V448.0M1473 444.0V450.0M1479 445.8V467.0M1481 445.8V455.9M1483 455.9V458.7M1485 458.7V480.0M1487 480.0V495.0M1489 495.0V499.4M1501 364.3V393.0M1511 367.5V368.5M1513 368.1V369.1M1515 381.5V393.1M1517 393.1V407.0M1519 404.0V408.0M1521 408.0V410.4M1529 384.7V389.1M1531 389.1V398.6M1533 348.0V398.6M1535 398.6V413.6M1541 397.5V401.5M1543 401.5V412.6M1545 412.6V440.4M1552 408.0V441.5M1555 436.0V493.0M1564 451.0V475.8M1566 475.8V479.0M1580 405.5V407.9M1584 388.0V398.8M1586 398.8V400.8M1588 394.0V428.6M1594 415.8V430.8M1596 424.0V432.1M1598 432.1V448.0M1606 425.0V516.6M1610 459.0V490.0M1612 491.7V529.0M1616 491.7V504.0M1618 504.0V514.0M1622 513.6V521.7M1624 559.4V596.5M1633 540.0V554.8M1635 554.8V575.0M1647 577.0V592.0M1651 585.0V592.0M1654 591.0V634.4M1656 635.0V640.0M1657 640.0V651.0M1660 631.0V635.0" stroke="#c62828" stroke-width="2" fill="none"/>

<!-- rectangles -->
<g stroke="#000" stroke-opacity="0.68" stroke-width="1.4" fill="#fff" fill-opacity="0.2">
<rect x="671.5" y="400" width="1062" height="5"/>
<rect x="1316.5" y="516.4" width="419" height="4.9"/>
<rect x="641.5" y="671.1" width="1096" height="5.1"/>
<rect x="1487.6" y="833.8" width="251.7" height="6.6"/>
</g>
<path d="M1487.5 458V834" stroke="#222" stroke-width="1"/>
<!-- orange channel -->
<g stroke="#ff7f0e" stroke-width="6" stroke-linecap="round">
<path d="M455.6 153.8L1737 251"/>
<path d="M468 658.5L1750 755.6"/>
</g>
<!-- arrows -->
<defs><filter id="ds" x="-30%" y="-30%" width="160%" height="160%"><feDropShadow dx="0.8" dy="0.8" stdDeviation="0.9" flood-color="#000" flood-opacity="0.55"/></filter></defs>
<path d="M1725.8 555.1L1734.3 579L1729 575.6L1714.2 624.8L1711.8 623.8L1715.8 573.1L1709.500 574.3Z" fill="#2ea078" filter="url(#ds)"/>
<path d="M1717.1 680.1H1718.9L1732.4 723.500L1738 719.6L1729.8 742.500L1713.9 724L1719.7 726.2Z" fill="#ff1e00" filter="url(#ds)"/>
<!-- axes -->
<path d="M1860.5 98.500V980.500M0 980.500H1861" stroke="#666" stroke-width="1" fill="none"/>
<g stroke="#666" stroke-width="1">
<path d="M1860 147.5h3.5M1860 251.5h3.5M1860 355.5h3.5M1860 459.5h3.5M1860 563.5h3.5M1860 667.5h3.5M1860 771.5h3.5M1860 875.5h3.5M1860 980.5h3.5"/>
<path d="M5.5 980v6M78.5 980v6M150.5 980v6M204.5 980v6M259.5 980v6M332.5 980v6M386.5 980v6M441.5 980v6M514.5 980v6M586.5 980v6M641.5 980v6M714.5 980v6M787.5 980v6M840.5 980v6M896.5 980v6M1004.5 980v6M1059.5 980v6M1113.5 980v6M1168.5 980v6M1241.5 980v6M1295.5 980v6M1385.5 980v6M1459.5 980v6M1532.5 980v6M1605.5 980v6M1658.5 980v6M1784.5 980v6"/>
</g>
<g class="yl"><text x="1866" y="150.1" textLength="25.1" lengthAdjust="spacing">10.75</text><text x="1866" y="254.1" textLength="19.6" lengthAdjust="spacing">10.5</text><text x="1866" y="358.1" textLength="25.1" lengthAdjust="spacing">10.25</text><text x="1866" y="462.1" textLength="11.0" lengthAdjust="spacing">10</text><text x="1866" y="566.1" textLength="19.6" lengthAdjust="spacing">9.75</text><text x="1866" y="670.1" textLength="14.0" lengthAdjust="spacing">9.5</text><text x="1866" y="774.1" textLength="19.6" lengthAdjust="spacing">9.25</text><text x="1866" y="878.1" textLength="5.5" lengthAdjust="spacing">9</text><text x="1866" y="982.6" textLength="19.6" lengthAdjust="spacing">8.75</text></g>
<g class="xl">
<text x="5.5" y="996">16</text><text x="78.5" y="996">22</text><text x="150.5" y="996">28</text><text x="204.5" y="996">Jul</text><text x="259.5" y="996">6</text><text x="332.5" y="996">12</text><text x="386.5" y="996">16</text><text x="441.5" y="996">20</text><text x="514.5" y="996">26</text><text x="586.5" y="996">Aug</text><text x="641.5" y="996">4</text><text x="714.5" y="996">10</text><text x="787.5" y="996">16</text><text x="840.5" y="996">20</text><text x="896.5" y="996">24</text><text x="1004.5" y="996">Sept</text><text x="1059.5" y="996">6</text><text x="1113.5" y="996">10</text><text x="1168.5" y="996">14</text><text x="1241.5" y="996">20</text><text x="1295.5" y="996">24</text><text x="1385.5" y="996">Oct</text><text x="1459.5" y="996">6</text><text x="1532.5" y="996">12</text><text x="1605.5" y="996">18</text><text x="1658.5" y="996">22</text><text x="1784.5" y="996">26</text>
</g>
<!-- price tag -->
<path d="M1861.6 636.8L1868.5 629H1896a2 2 0 0 1 2 2V642.700a2 2 0 0 1-2 2H1868.5Z" fill="#5e57a8"/>
<text x="1875" y="640.9" font-size="9.5" font-weight="bold" fill="#fff" textLength="19.8" lengthAdjust="spacingAndGlyphs">9.57</text>
<!-- stats -->
<rect x="0" y="937" width="226" height="38" fill="#fff" fill-opacity="0.85"/>
<g class="st">
<text x="10" y="953" fill="#aaa">TODAY:</text><text x="63" y="953" fill="#aaa">H:</text><text x="76.5" y="953" fill="#333">9.59</text><text x="111" y="953" fill="#aaa">L:</text><text x="122" y="953" fill="#333">9.53</text><text x="155.5" y="953" fill="#2a9db5">0.04</text><text x="192.5" y="953" fill="#2a9db5">0.4%</text>
<text x="10" y="967" fill="#aaa">CHART:</text><text x="63" y="967" fill="#aaa">H:</text><text x="76.5" y="967" fill="#333">10.71</text><text x="111" y="967" fill="#aaa">L:</text><text x="122" y="967" fill="#333">8.91</text><text x="155.5" y="967" fill="#d23a4a">-0.13</text><text x="192.5" y="967" fill="#d23a4a">-1.3%</text>
</g>
<!-- drawing tools -->
<g id="tools" stroke="#666" fill="none" stroke-width="1.2">
<path d="M1576 954.500L1585 963" stroke-width="3"/><path d="M1588 966l-7.5-1.500l6-6z" fill="#666" stroke="none"/>
<path d="M1600 965v-3q0-3 3.5-3h5q4 0 4-3.500v-2.5" stroke-width="2.2"/>
<path d="M1620 951h20M1620 968.500h20" stroke-width="1.5"/><path d="M1620 955.500h20M1620 964.500h20" stroke-width="2.5" stroke-dasharray="4.5 2"/><path d="M1620 960h20" stroke="#bbb" stroke-width="2.5" stroke-dasharray="4.5 2"/>
<path d="M1644.5 950.500V969H1664M1644.5 969L1655 953M1644.5 969L1662 959.5"/>
<path d="M1668 959.500H1688"/>
<path d="M1694.5 952L1710 968" stroke-width="1.8"/><rect x="1692.5" y="950" width="4" height="4" rx="1" fill="#666" stroke="none"/><circle cx="1710" cy="967.5" r="2.4" fill="#666" stroke="none"/>
<rect x="1718.5" y="952.5" width="15" height="15"/>
<path d="M1741 963.500H1759" stroke-width="1"/>
<path d="M1767.5 966.500L1780.5 953.5"/>
<path d="M1798 951V969.5" stroke-width="1.8"/>
<path d="M1812 965.500L1826 952.500L1830 957L1816 969.500Z" fill="#666" stroke="none"/><path d="M1815.5 964l1.500 1.700M1818 961.700l1.500 1.700M1820.500 959.400l1.500 1.700M1823 957.100l1.500 1.700M1825.500 954.800l1.500 1.700" stroke="#ccc" stroke-width="0.800"/>
<path d="M1838 955.500L1846 963.500M1846 955.500L1838 963.5" stroke="#999" stroke-width="2.4"/>
</g>
<text x="1741.5" y="962" font-size="9" fill="#666" textLength="17" lengthAdjust="spacingAndGlyphs">Abc</text>
</svg>
</body></html>
